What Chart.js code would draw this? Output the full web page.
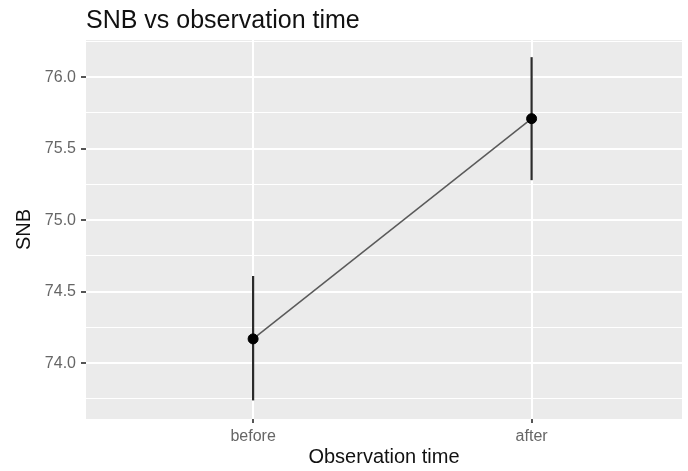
<!DOCTYPE html>
<html>
<head>
<meta charset="utf-8">
<script src="https://cdn.jsdelivr.net/npm/chart.js@4"></script>
<style>
  html, body { margin: 0; padding: 0; background: #fff; }
  #wrap { width: 688px; height: 471px; }
</style>
</head>
<body>
<div id="wrap"><canvas id="snbChart" width="688" height="471"></canvas></div>
<script>
const categories = ['before', 'after'];
const snbMean = [74.17, 75.71];
const snbLower = [73.74, 75.28];
const snbUpper = [74.61, 76.14];
const yTickLabels = [74.0, 74.5, 75.0, 75.5, 76.0];

const meanPoints = snbMean.map((v, i) => ({ x: i + 1, y: v }));
const errorSets = categories.map((c, i) => ({
    type: 'line',
    label: c + ' range',
    data: [{ x: i + 1, y: snbLower[i] }, { x: i + 1, y: snbUpper[i] }],
    borderColor: '#2b2b2b',
    borderWidth: 2.2,
    pointRadius: 0
}));

const isMajor = (v) => yTickLabels.some((t) => Math.abs(t - v) < 1e-6);

// title sits on the panel's left edge like ggplot does
const panelTitle = {
    id: 'panelTitle',
    afterDraw(chart) {
        const ctx = chart.ctx;
        ctx.save();
        ctx.fillStyle = '#111';
        ctx.font = '25px "Liberation Sans", Arial, sans-serif';
        ctx.textBaseline = 'alphabetic';
        ctx.fillText('SNB vs observation time', chart.chartArea.left, 28);
        ctx.restore();
    }
};

const panelBg = {
    id: 'panelBg',
    beforeDraw(chart) {
        const a = chart.chartArea;
        chart.ctx.save();
        chart.ctx.fillStyle = '#ebebeb';
        chart.ctx.fillRect(a.left, a.top, a.right - a.left, a.bottom - a.top);
        chart.ctx.restore();
    }
};

const snbChart = new Chart(document.getElementById('snbChart'), {
    type: 'scatter',
    data: {
        datasets: [{
            type: 'scatter',
            label: 'SNB',
            data: meanPoints,
            backgroundColor: '#000',
            borderColor: '#000',
            pointRadius: 5
        }, {
            type: 'line',
            label: 'trend',
            data: meanPoints,
            borderColor: '#5a5a5a',
            borderWidth: 1.5,
            pointRadius: 0
        }, ...errorSets]
    },
    options: {
        responsive: false,
        animation: false,
        layout: { padding: { top: 40, right: 2, left: 0, bottom: 0 } },
        plugins: {
            legend: { display: false },
            tooltip: { enabled: false }
        },
        scales: {
            x: {
                type: 'linear',
                min: 0.4,
                max: 2.54,
                afterBuildTicks: (scale) => {
                    scale.ticks = categories.map((c, i) => ({ value: i + 1 }));
                },
                afterFit: (scale) => { scale.height = 52; },
                ticks: {
                    callback: (v) => categories[Math.round(v) - 1],
                    color: '#666',
                    font: { family: '"Liberation Sans", Arial, sans-serif', size: 16 },
                    padding: 4,
                    maxRotation: 0
                },
                grid: {
                    color: '#ffffff',
                    lineWidth: 2,
                    tickColor: '#555',
                    tickLength: 4
                },
                border: { display: false },
                title: {
                    display: true,
                    text: 'Observation time',
                    color: '#111',
                    font: { family: '"Liberation Sans", Arial, sans-serif', size: 20 },
                    padding: { top: 0, bottom: 2 }
                }
            },
            y: {
                min: 73.61,
                max: 76.26,
                afterFit: (scale) => { scale.width = 86; },
                ticks: {
                    stepSize: 0.25,
                    includeBounds: false,
                    autoSkip: false,
                    callback: (v) => isMajor(v) ? v.toFixed(1) : '',
                    color: '#666',
                    font: { family: '"Liberation Sans", Arial, sans-serif', size: 16 },
                    padding: 5
                },
                grid: {
                    color: '#ffffff',
                    lineWidth: (ctx) => isMajor(ctx.tick.value) ? 2 : 1,
                    tickColor: (ctx) => isMajor(ctx.tick.value) ? '#555' : 'rgba(0,0,0,0)',
                    tickLength: 5
                },
                border: { display: false },
                title: {
                    display: true,
                    text: 'SNB',
                    color: '#111',
                    font: { family: '"Liberation Sans", Arial, sans-serif', size: 20 },
                    padding: { top: 12, bottom: 0 }
                }
            }
        }
    },
    plugins: [panelBg, panelTitle]
});
</script>
</body>
</html>
